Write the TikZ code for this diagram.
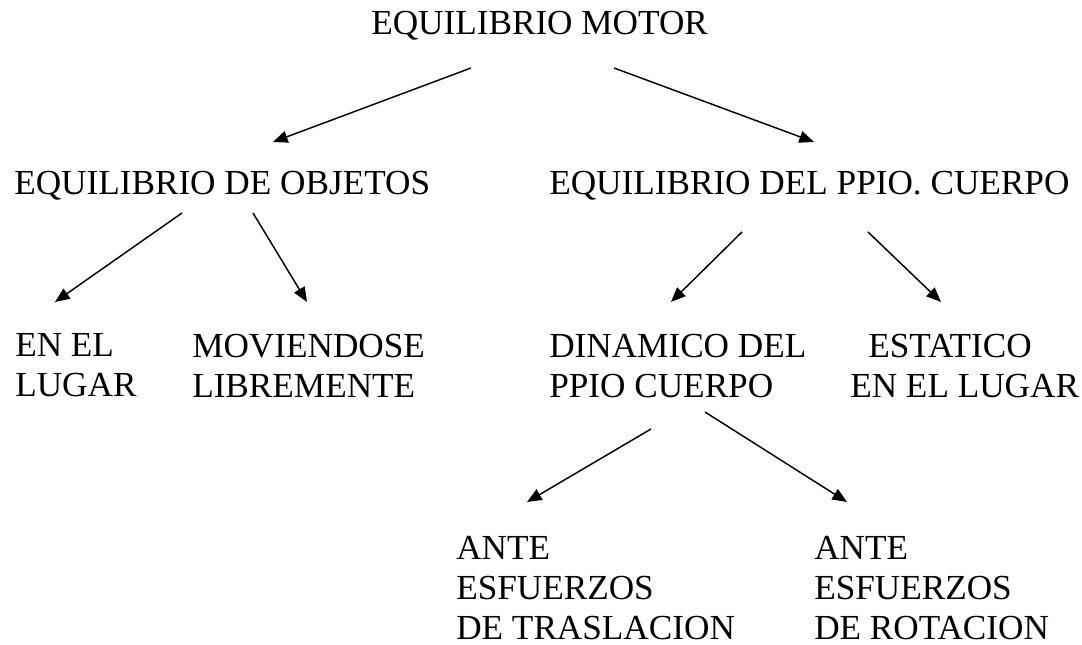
\documentclass[tikz,border=0pt]{standalone}
\usepackage{fontspec}
\setmainfont{Liberation Serif}
\usetikzlibrary{arrows.meta}
\begin{document}
\begin{tikzpicture}[x=0.75pt,y=-0.75pt,
  lbl/.style={anchor=base west,inner sep=0pt,font=\fontsize{26.4pt}{30pt}\selectfont},
  mlbl/.style={anchor=north west,inner sep=0pt,align=left,font=\fontsize{26.4pt}{30pt}\selectfont},
  arr/.style={line width=1.1pt,-{Triangle[length=11pt,width=9pt]}}]
\useasboundingbox (0,0) rectangle (1082,645);
% labels
\node[lbl] (top) at (371,35) {EQUILIBRIO MOTOR};
\node[lbl] (obj) at (14,195) {EQUILIBRIO DE OBJETOS};
\node[lbl] (cue) at (549,195) {EQUILIBRIO DEL PPIO. CUERPO};
\node[mlbl] (lug) at (15,333.5) {EN EL\\LUGAR};
\node[mlbl] (mov) at (192,333.5) {MOVIENDOSE\\LIBREMENTE};
\node[mlbl] (din) at (549,333.5) {DINAMICO DEL\\PPIO CUERPO};
\node[mlbl] (est) at (850,333.5) {\hspace*{13.5pt}ESTATICO\\EN EL LUGAR};
\node[mlbl] (tra) at (456,535.5) {ANTE\\ESFUERZOS\\DE TRASLACION};
\node[mlbl] (rot) at (814,535.5) {ANTE\\ESFUERZOS\\DE ROTACION};
% arrow end points
\coordinate (a1s) at (471,68);  \coordinate (a1e) at (273,142);
\coordinate (a2s) at (614,68);  \coordinate (a2e) at (814,142);
\coordinate (b1s) at (182,213); \coordinate (b1e) at (55,302);
\coordinate (b2s) at (253,213); \coordinate (b2e) at (307,302);
\coordinate (c1s) at (742,232); \coordinate (c1e) at (671,302);
\coordinate (c2s) at (868,232); \coordinate (c2e) at (941,302);
\coordinate (d1s) at (651,429); \coordinate (d1e) at (527,502);
\coordinate (d2s) at (705,412); \coordinate (d2e) at (847,502);
% connectors
\draw[arr] (a1s) -- (a1e);
\draw[arr] (a2s) -- (a2e);
\draw[arr] (b1s) -- (b1e);
\draw[arr] (b2s) -- (b2e);
\draw[arr] (c1s) -- (c1e);
\draw[arr] (c2s) -- (c2e);
\draw[arr] (d1s) -- (d1e);
\draw[arr] (d2s) -- (d2e);
\end{tikzpicture}
\end{document}
